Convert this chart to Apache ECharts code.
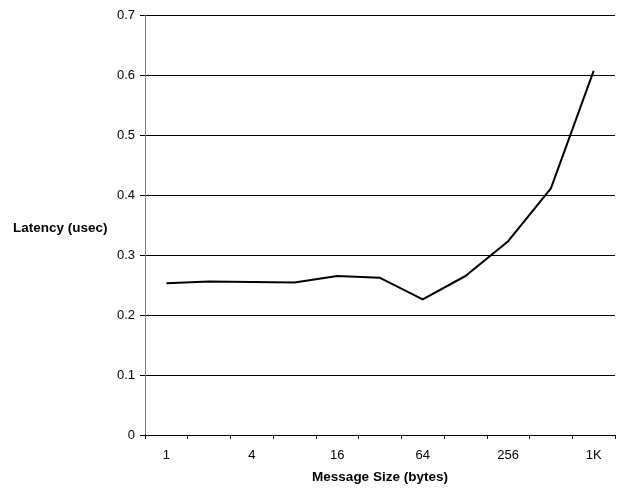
<!DOCTYPE html>
<html>
<head>
<meta charset="utf-8">
<script src="https://cdn.jsdelivr.net/npm/echarts@6/dist/echarts.min.js"></script>
<style>
html,body{margin:0;padding:0;background:#fff;}
#c{width:618px;height:489px;}
</style>
</head>
<body>
<div id="c"></div>
<script>
var categories = ['1','2','4','8','16','32','64','128','256','512','1K'];
var latency = [0.253, 0.256, 0.255, 0.254, 0.265, 0.262, 0.226, 0.265, 0.323, 0.411, 0.607];
var yTicks = [0, 0.1, 0.2, 0.3, 0.4, 0.5, 0.6, 0.7];
var xTitle = 'Message Size (bytes)';
var yTitle = 'Latency (usec)';

var chart = echarts.init(document.getElementById('c'), null, {renderer:'canvas'});
chart.setOption({
  animation:false,
  backgroundColor:'#fff',
  textStyle:{fontFamily:'Liberation Sans, Arial, sans-serif'},
  grid:{left:145, right:3, top:15, bottom:50, containLabel:false},
  xAxis:{
    type:'category',
    data:categories,
    boundaryGap:true,
    name:xTitle,
    nameLocation:'middle',
    nameGap:35,
    nameTextStyle:{fontSize:13.5, fontWeight:'bold', color:'#000', fontFamily:'Liberation Sans, Arial, sans-serif'},
    axisLine:{lineStyle:{color:'#000', width:1}},
    axisTick:{show:true, interval:0, length:4, inside:false, lineStyle:{color:'#000'}},
    axisLabel:{interval:1, color:'#000', fontSize:13, margin:14, fontFamily:'Liberation Sans, Arial, sans-serif'},
    splitLine:{show:false}
  },
  yAxis:{
    type:'value',
    min:yTicks[0],
    max:yTicks[yTicks.length-1],
    interval:0.1,
    axisLine:{show:true, lineStyle:{color:'#808080', width:1}},
    axisTick:{show:true, length:5, lineStyle:{color:'#000'}},
    axisLabel:{color:'#000', fontSize:13, margin:10, fontFamily:'Liberation Sans, Arial, sans-serif',
      formatter:function(v){return String(Math.round(v*10)/10);}},
    splitLine:{show:true, lineStyle:{color:'#000', width:1}}
  },
  graphic:[{
    type:'text',
    left:13,
    top:221,
    style:{text:yTitle, font:'bold 13.5px "Liberation Sans", Arial, sans-serif', fill:'#000'}
  }],
  series:[{
    type:'line',
    data:latency,
    symbol:'none',
    lineStyle:{color:'#000', width:2},
    itemStyle:{color:'#000'}
  }]
});
</script>
</body>
</html>
